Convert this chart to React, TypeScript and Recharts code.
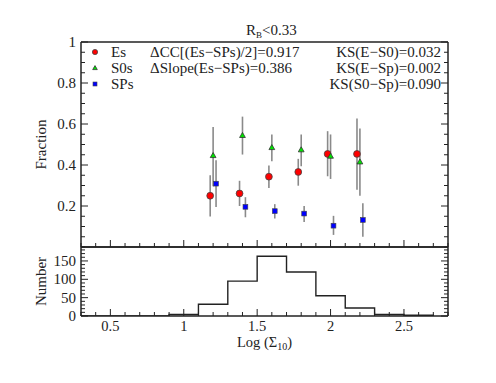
import React from 'react';
import { ScatterChart, Scatter, ErrorBar, LineChart, Line, XAxis, YAxis, Legend, Label } from 'recharts';

const FONT = '"Liberation Serif", "DejaVu Serif", serif';
const INK = '#222';
const BAR = '#8a8a8a';

// top panel: fraction of each type per density bin (value, upper, lower end of error bar)
const esX = [1.18, 1.38, 1.58, 1.78, 1.98, 2.18];
const esY = [0.25, 0.261, 0.343, 0.366, 0.454, 0.454];
const esHi = [0.35, 0.323, 0.397, 0.43, 0.565, 0.627];
const esLo = [0.149, 0.2, 0.288, 0.299, 0.345, 0.279];

const s0X = [1.2, 1.4, 1.6, 1.8, 2.0, 2.2];
const s0Y = [0.446, 0.544, 0.485, 0.474, 0.443, 0.415];
const s0Hi = [0.585, 0.636, 0.549, 0.549, 0.549, 0.578];
const s0Lo = [0.296, 0.451, 0.418, 0.394, 0.332, 0.25];

const spX = [1.22, 1.42, 1.62, 1.82, 2.02, 2.22];
const spY = [0.309, 0.196, 0.175, 0.163, 0.104, 0.132];
const spHi = [0.423, 0.243, 0.209, 0.2, 0.152, 0.214];
const spLo = [0.195, 0.145, 0.139, 0.122, 0.059, 0.05];

// bottom panel: histogram, left bin edges and counts
const binEdges = [0.3, 0.5, 0.7, 0.9, 1.1, 1.3, 1.5, 1.7, 1.9, 2.1, 2.3, 2.5, 2.7];
const binCounts = [0, 0, 0, 4, 32, 95, 163, 120, 55, 22, 4, 2, 0];

// ticks
const xTicks = [0.3, 0.4, 0.5, 0.6, 0.7, 0.8, 0.9, 1, 1.1, 1.2, 1.3, 1.4, 1.5, 1.6, 1.7, 1.8, 1.9, 2, 2.1, 2.2, 2.3, 2.4, 2.5, 2.6, 2.7, 2.8];
const xMajor = [0.5, 1, 1.5, 2, 2.5];
const fracTicks = [0, 0.05, 0.1, 0.15, 0.2, 0.25, 0.3, 0.35, 0.4, 0.45, 0.5, 0.55, 0.6, 0.65, 0.7, 0.75, 0.8, 0.85, 0.9, 0.95, 1];
const fracMajor = [0.2, 0.4, 0.6, 0.8, 1];
const numTicks = [0, 10, 20, 30, 40, 50, 60, 70, 80, 90, 100, 110, 120, 130, 140, 150, 160, 170, 180];
const numMajor = [0, 50, 100, 150];

const toPoints = (xs: number[], ys: number[], hi: number[], lo: number[]) =>
  xs.map((x, i) => ({ x, y: ys[i], err: [ys[i] - lo[i], hi[i] - ys[i]] }));

const esData = toPoints(esX, esY, esHi, esLo);
const s0Data = toPoints(s0X, s0Y, s0Hi, s0Lo);
const spData = toPoints(spX, spY, spHi, spLo);
const histData = binEdges.map((x, i) => ({ x, n: binCounts[i] }));

const isMajor = (v: number, majors: number[]) => majors.some((m) => Math.abs(m - v) < 1e-6);

type Side = 'bottom' | 'top' | 'left' | 'right';

const makeTick = (side: Side, majors: number[], labels: boolean, marks = true) => (props: any) => {
  const x = Number(props.x);
  const y = Number(props.y);
  const v = props.payload.value;
  const major = isMajor(v, majors);
  const len = major ? 7 : 4;
  let x2 = x;
  let y2 = y - len;
  if (side === 'top') y2 = y + len;
  if (side === 'left') { x2 = x + len; y2 = y; }
  if (side === 'right') { x2 = x - len; y2 = y; }
  return (
    <g>
      {marks && <path d={`M${x},${y}L${x2},${y2}`} stroke={INK} strokeWidth={1} fill="none" />}
      {labels && major && side === 'bottom' && (
        <text x={x} y={y + 15} textAnchor="middle" fontFamily={FONT} fontSize={14.5} fill={INK}>
          {String(v)}
        </text>
      )}
      {labels && major && side === 'left' && (
        <text x={x - 5} y={y + 5} textAnchor="end" fontFamily={FONT} fontSize={15} fill={INK}>
          {String(v)}
        </text>
      )}
    </g>
  );
};

const RedDot = ({ cx, cy, r = 3.4 }: any) => (
  <circle cx={cx} cy={cy} r={r} fill="#ff0000" stroke="#444" strokeWidth={0.8} />
);
const GreenTri = ({ cx, cy, s = 5.8 }: any) => {
  const h = s * 0.87;
  return (
    <polygon
      points={`${cx},${cy - h * 0.6} ${cx - s / 2},${cy + h * 0.4} ${cx + s / 2},${cy + h * 0.4}`}
      fill="#00e600"
      stroke="#333"
      strokeWidth={0.8}
    />
  );
};
const BlueSq = ({ cx, cy, s = 4.8 }: any) => (
  <rect x={cx - s / 2} y={cy - s / 2} width={s} height={s} fill="#0000ff" stroke="#444" strokeWidth={0.6} />
);

const legendRows = [
  { name: 'Es', Mark: RedDot, size: { r: 2.6 } },
  { name: 'S0s', Mark: GreenTri, size: { s: 4.6 } },
  { name: 'SPs', Mark: BlueSq, size: { s: 4 } },
];

const renderLegend = () => (
  <div style={{ fontFamily: FONT, fontSize: 15, color: INK }}>
    {legendRows.map(({ name, Mark, size }) => (
      <div key={name} style={{ height: 16, display: 'flex', alignItems: 'center' }}>
        <svg width={14} height={16}>
          <Mark cx={7} cy={8} {...size} />
        </svg>
        <span style={{ marginLeft: 9, lineHeight: '16px' }}>{name}</span>
      </div>
    ))}
  </div>
);

const axisStyle = { stroke: INK, strokeWidth: 1.5 };

const sideLabel = (text: string) => (props: any) => {
  const vb = props.viewBox || { x: 0, y: 0, width: 81, height: 0 };
  const cx = vb.x + vb.width / 2;
  const cy = vb.y + vb.height / 2;
  return (
    <text
      x={cx}
      y={cy}
      transform={`rotate(-90 ${cx} ${cy})`}
      textAnchor="middle"
      dominantBaseline="central"
      fontFamily={FONT}
      fontSize={15}
      fill={INK}
    >
      {text}
    </text>
  );
};

const xLabel = (props: any) => {
  const vb = props.viewBox || { x: 81, y: 70, width: 367, height: 67 };
  return (
    <text x={vb.x + vb.width / 2} y={vb.y + 31} textAnchor="middle" fontFamily={FONT} fontSize={14.5} fill={INK}>
      <tspan>Log (Σ</tspan>
      <tspan dy={3} fontSize={10}>10</tspan>
      <tspan dy={-3}>)</tspan>
    </text>
  );
};

const textStyle: React.CSSProperties = {
  position: 'absolute',
  fontFamily: FONT,
  fontSize: 15,
  lineHeight: '16px',
  color: INK,
  whiteSpace: 'nowrap',
};

const App = () => {
  return (
    <div style={{ position: 'absolute', left: 0, top: 0, width: 496, height: 383, background: '#fff' }}>
      <div style={{ position: 'absolute', left: 0, top: 0 }}>
        <ScatterChart width={496} height={248} margin={{ top: 41, right: 38, bottom: 0, left: 0 }}>
          <XAxis
            type="number"
            dataKey="x"
            domain={[0.3, 2.8]}
            allowDataOverflow
            ticks={xTicks}
            interval={0}
            height={1}
            tickSize={0}
            tickMargin={0}
            tickLine={false}
            axisLine={axisStyle}
            tick={makeTick('bottom', xMajor, false)}
          />
          <XAxis
            xAxisId="top"
            orientation="top"
            type="number"
            domain={[0.3, 2.8]}
            allowDataOverflow
            ticks={xTicks}
            interval={0}
            height={1}
            tickSize={0}
            tickMargin={0}
            tickLine={false}
            axisLine={axisStyle}
            tick={makeTick('top', xMajor, false)}
          />
          <YAxis
            type="number"
            dataKey="y"
            domain={[0, 1]}
            allowDataOverflow
            ticks={fracTicks}
            interval={0}
            width={81}
            tickSize={0}
            tickMargin={0}
            tickLine={false}
            axisLine={axisStyle}
            tick={makeTick('left', fracMajor, true)}
          >
            <Label position="center" content={sideLabel('Fraction')} />
          </YAxis>
          <YAxis
            yAxisId="right"
            orientation="right"
            type="number"
            domain={[0, 1]}
            allowDataOverflow
            ticks={fracTicks}
            interval={0}
            width={10}
            tickSize={0}
            tickMargin={0}
            tickLine={false}
            axisLine={axisStyle}
            tick={makeTick('right', fracMajor, false)}
          />
          <Legend
            layout="vertical"
            align="center"
            verticalAlign="middle"
            wrapperStyle={{ top: 44, left: 88, width: 70 }}
            content={renderLegend}
          />
          <Scatter name="Es" data={esData} shape={(p: any) => <RedDot cx={p.cx} cy={p.cy} />} isAnimationActive={false}>
            <ErrorBar dataKey="err" direction="y" width={0} stroke={BAR} strokeWidth={1.6} />
          </Scatter>
          <Scatter name="S0s" data={s0Data} shape={(p: any) => <GreenTri cx={p.cx} cy={p.cy} />} isAnimationActive={false}>
            <ErrorBar dataKey="err" direction="y" width={0} stroke={BAR} strokeWidth={1.6} />
          </Scatter>
          <Scatter name="SPs" data={spData} shape={(p: any) => <BlueSq cx={p.cx} cy={p.cy} />} isAnimationActive={false}>
            <ErrorBar dataKey="err" direction="y" width={0} stroke={BAR} strokeWidth={1.6} />
          </Scatter>
        </ScatterChart>
      </div>

      <div style={{ position: 'absolute', left: 0, top: 246 }}>
        <LineChart width={496} height={137} data={histData} margin={{ top: 0, right: 38, bottom: 0, left: 0 }}>
          <XAxis
            type="number"
            dataKey="x"
            domain={[0.3, 2.8]}
            allowDataOverflow
            ticks={xTicks}
            interval={0}
            height={67}
            tickSize={0}
            tickMargin={0}
            tickLine={false}
            axisLine={axisStyle}
            tick={makeTick('bottom', xMajor, true)}
          >
            <Label content={xLabel} />
          </XAxis>
          <XAxis
            xAxisId="top"
            orientation="top"
            type="number"
            domain={[0.3, 2.8]}
            allowDataOverflow
            ticks={xTicks}
            interval={0}
            height={1}
            tickSize={0}
            tickMargin={0}
            tickLine={false}
            axisLine={axisStyle}
            tick={makeTick('top', xMajor, false, false)}
          />
          <YAxis
            type="number"
            domain={[0, 188]}
            allowDataOverflow
            ticks={numTicks}
            interval={0}
            width={81}
            tickSize={0}
            tickMargin={0}
            tickLine={false}
            axisLine={axisStyle}
            tick={makeTick('left', numMajor, true)}
          >
            <Label position="center" content={sideLabel('Number')} />
          </YAxis>
          <YAxis
            yAxisId="right"
            orientation="right"
            type="number"
            domain={[0, 188]}
            allowDataOverflow
            ticks={numTicks}
            interval={0}
            width={10}
            tickSize={0}
            tickMargin={0}
            tickLine={false}
            axisLine={axisStyle}
            tick={makeTick('right', numMajor, false)}
          />
          <Line
            type="stepAfter"
            dataKey="n"
            stroke={INK}
            strokeWidth={1.4}
            dot={false}
            isAnimationActive={false}
          />
        </LineChart>
      </div>

      <div style={{ ...textStyle, left: 246, top: 22 }}>
        R<sub style={{ fontSize: 9, verticalAlign: '-3px', lineHeight: 0 }}>B</sub>&lt;0.33
      </div>
      <div style={{ ...textStyle, left: 150, top: 44 }}>ΔCC[(Es−SPs)/2]=0.917</div>
      <div style={{ ...textStyle, left: 150, top: 60 }}>ΔSlope(Es−SPs)=0.386</div>
      <div style={{ ...textStyle, right: 55, top: 44, textAlign: 'right' }}>KS(E−S0)=0.032</div>
      <div style={{ ...textStyle, right: 55, top: 60, textAlign: 'right' }}>KS(E−Sp)=0.002</div>
      <div style={{ ...textStyle, right: 55, top: 76, textAlign: 'right' }}>KS(S0−Sp)=0.090</div>
    </div>
  );
};

export default App;
